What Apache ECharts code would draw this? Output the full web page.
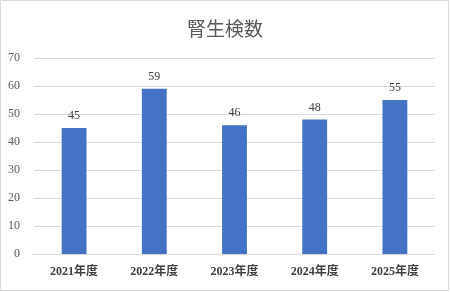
<!DOCTYPE html>
<html>
<head>
<meta charset="utf-8">
<script src="https://cdn.jsdelivr.net/npm/echarts@6/dist/echarts.min.js"></script>
<style>
  html, body { margin: 0; padding: 0; background: #fff; }
  #chart { width: 450px; height: 292px; }
</style>
</head>
<body>
<div id="chart"></div>
<script>
  // 年度ごとの腎生検数
  const categories = ['2021年度', '2022年度', '2023年度', '2024年度', '2025年度'];
  const biopsyCounts = [45, 59, 46, 48, 55];
  const yTicks = { min: 0, max: 70, interval: 10 };

  const fontFam = "'Liberation Serif', 'Noto Sans CJK JP', serif";
  const chart = echarts.init(document.getElementById('chart'));
  chart.setOption({
    backgroundColor: '#fff',
    animation: false,
    graphic: [{
      type: 'rect',
      shape: { x: 0.5, y: 0.5, width: 448, height: 290 },
      style: { fill: 'none', stroke: '#d9d9d9', lineWidth: 1 },
      silent: true
    }],
    title: {
      text: '腎生検数',
      left: 'center',
      top: 14,
      textStyle: { fontFamily: "'Noto Sans CJK JP', sans-serif", fontSize: 19, fontWeight: 'normal', color: '#595959' }
    },
    grid: { left: 34, right: 15, top: 58, bottom: 38 },
    xAxis: {
      type: 'category',
      data: categories,
      axisLine: { lineStyle: { color: '#d9d9d9' } },
      axisTick: { show: false },
      axisLabel: { color: '#404040', fontFamily: fontFam, fontSize: 12, fontWeight: 'bold', margin: 12 }
    },
    yAxis: {
      type: 'value',
      min: yTicks.min,
      max: yTicks.max,
      interval: yTicks.interval,
      axisLine: { show: false },
      axisTick: { show: false },
      splitLine: { lineStyle: { color: '#d9d9d9' } },
      axisLabel: { color: '#595959', fontFamily: fontFam, fontSize: 12, margin: 14 }
    },
    series: [{
      type: 'bar',
      data: biopsyCounts,
      barWidth: '31%',
      itemStyle: { color: '#4472C4' },
      label: {
        show: true,
        position: 'top',
        distance: 6,
        color: '#404040',
        fontFamily: fontFam,
        fontSize: 12
      }
    }]
  });
</script>
</body>
</html>
